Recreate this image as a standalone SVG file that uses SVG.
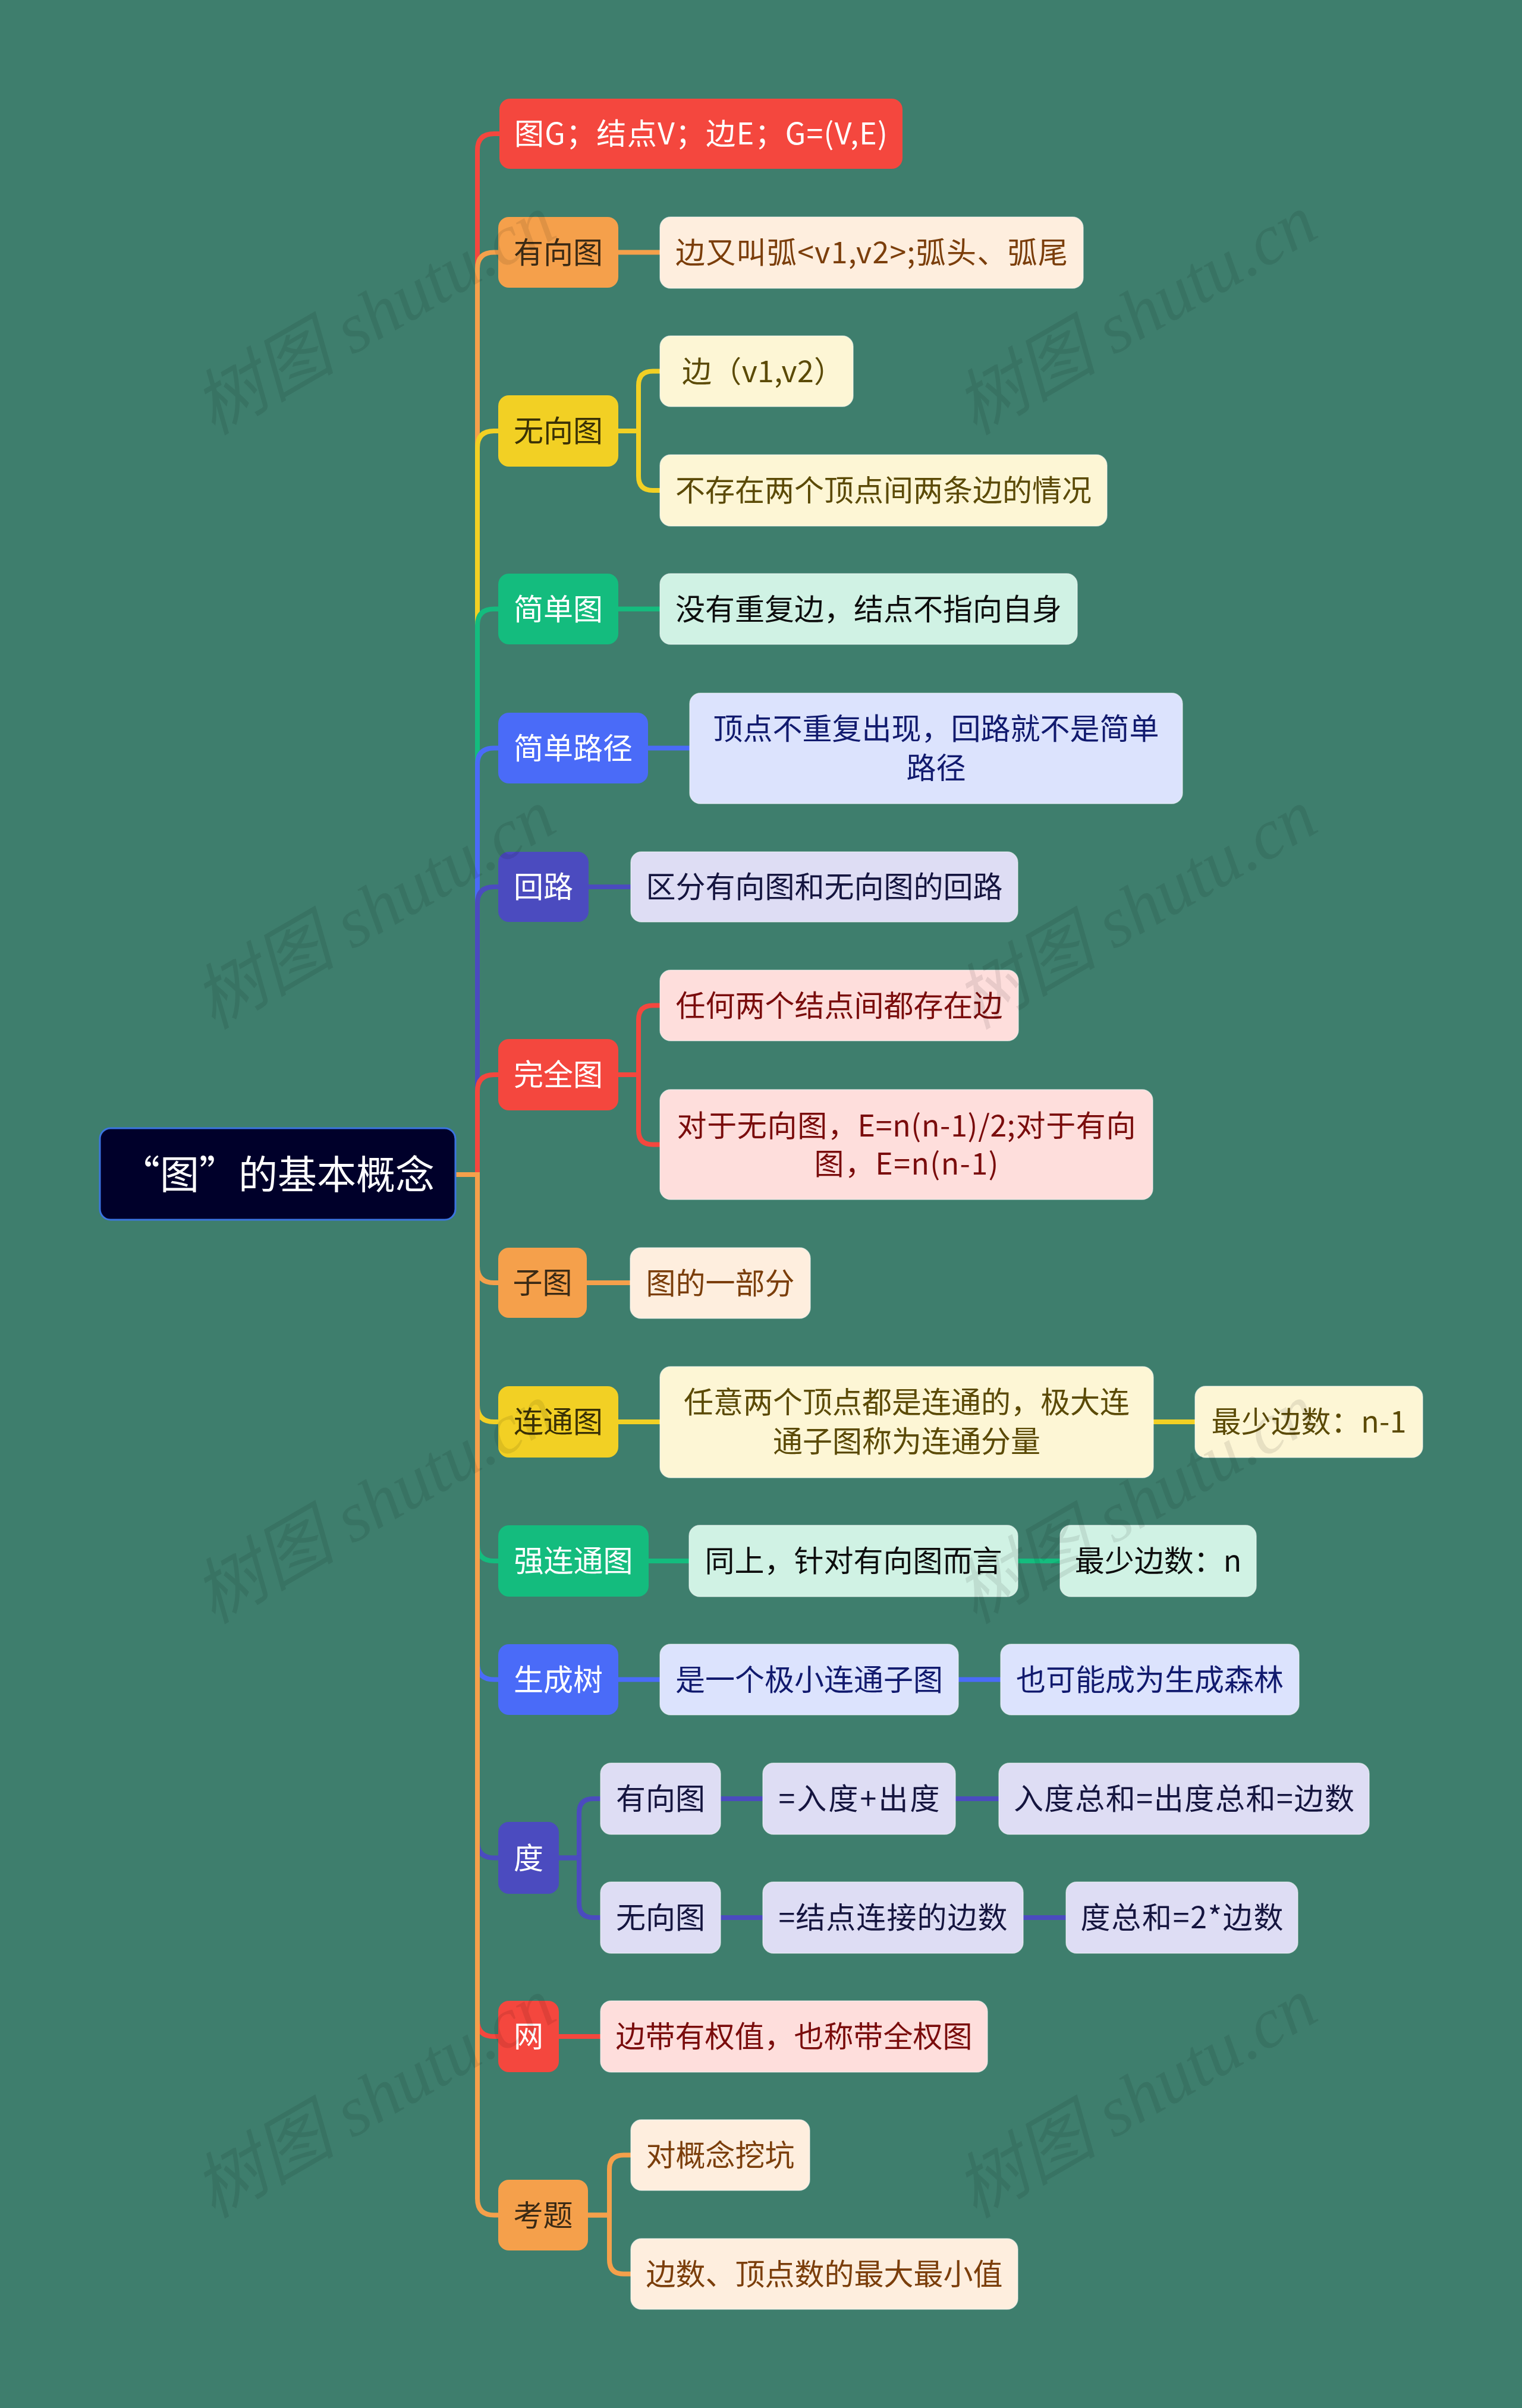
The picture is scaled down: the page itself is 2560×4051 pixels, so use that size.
<svg xmlns="http://www.w3.org/2000/svg" width="2560" height="4051" viewBox="0 0 2560 4051">
<style>
text{font-family:"Noto Sans CJK SC","Noto Sans",sans-serif;text-anchor:middle}
.t1{font-size:50px}
.t2{font-size:50px}
.conn path{fill:none;stroke-width:8}
.sr{stroke:#F4473E}.so{stroke:#F5A04B}.sy{stroke:#F2D024}.sg{stroke:#14BC7E}.sb{stroke:#4A6BF8}.si{stroke:#4B4BBF}
.n1r{fill:#F4473E}.n1o{fill:#F5A04B}.n1y{fill:#F2D024}.n1g{fill:#14BC7E}.n1b{fill:#4A6BF8}.n1i{fill:#4B4BBF}
.n2r{fill:#FEDEDC}.n2o{fill:#FEEEDE}.n2y{fill:#FDF6D5}.n2g{fill:#D0F2E4}.n2b{fill:#DCE3FD}.n2i{fill:#DEDDF4}
.n2{stroke:#ffffff;stroke-opacity:0.5;stroke-width:1.5}
.wl{fill:#ffffff}.wo{fill:#3B2A15}.wy{fill:#3A3106}
.xr{fill:#7A0C0C}.xo{fill:#7B3E0B}.xy{fill:#5B4A06}.xg{fill:#0D0D0D}.xb{fill:#111A6E}.xi{fill:#15153F}
.wm{font-family:"Liberation Serif","Noto Sans CJK SC",serif;font-style:italic;font-size:120px;fill:#000000;fill-opacity:0.085}
</style>
<rect x="0" y="0" width="2560" height="4051" fill="#3E7E6D"/>

<g class="conn" id="connectors">
<path class="sr" d="M766,1976 H803 V253 Q803,225 831,225 H842"/>
<path class="so" d="M766,1976 H803 V452 Q803,424.5 831,424.5 H842"/>
<path class="sy" d="M766,1976 H803 V753 Q803,725 831,725 H842"/>
<path class="sg" d="M766,1976 H803 V1052 Q803,1024.5 831,1024.5 H842"/>
<path class="sb" d="M766,1976 H803 V1286 Q803,1258.5 831,1258.5 H842"/>
<path class="si" d="M766,1976 H803 V1520 Q803,1492 831,1492 H842"/>
<path class="sr" d="M766,1976 H803 V1836 Q803,1808 831,1808 H842"/>
<path class="so" d="M766,1976 H803 V2130 Q803,2158 831,2158 H842"/>
<path class="sy" d="M766,1976 H803 V2364 Q803,2392 831,2392 H842"/>
<path class="sg" d="M766,1976 H803 V2598 Q803,2626 831,2626 H842"/>
<path class="sb" d="M766,1976 H803 V2797.5 Q803,2825.5 831,2825.5 H842"/>
<path class="si" d="M766,1976 H803 V3097.5 Q803,3125.5 831,3125.5 H842"/>
<path class="sr" d="M766,1976 H803 V3398 Q803,3426 831,3426 H842"/>
<path class="so" d="M766,1976 H803 V3698.5 Q803,3726.5 831,3726.5 H842"/>

<path class="so" d="M1038,424.5 H1112"/>
<path class="sy" d="M1038,725 H1074 V648.5 Q1074,624.5 1098,624.5 H1112"/>
<path class="sy" d="M1038,725 H1074 V801 Q1074,825 1098,825 H1112"/>
<path class="sg" d="M1038,1024.5 H1112"/>
<path class="sb" d="M1088,1258.5 H1162"/>
<path class="si" d="M988,1492 H1063"/>
<path class="sr" d="M1038,1808 H1074 V1715.5 Q1074,1691.5 1098,1691.5 H1112"/>
<path class="sr" d="M1038,1808 H1074 V1901.5 Q1074,1925.5 1098,1925.5 H1112"/>
<path class="so" d="M985,2158 H1062"/>
<path class="sy" d="M1038,2392 H1112"/>
<path class="sy" d="M1938,2392 H2012"/>
<path class="sg" d="M1089,2626 H1161"/>
<path class="sg" d="M1710,2626 H1785"/>
<path class="sb" d="M1038,2825.5 H1112"/>
<path class="sb" d="M1610,2825.5 H1685"/>
<path class="si" d="M938,3125.5 H974 V3050 Q974,3026 998,3026 H1012"/>
<path class="si" d="M938,3125.5 H974 V3202 Q974,3226 998,3226 H1012"/>
<path class="si" d="M1210,3026 H1285"/>
<path class="si" d="M1605,3026 H1682"/>
<path class="si" d="M1210,3226 H1285"/>
<path class="si" d="M1719,3226 H1795"/>
<path class="sr" d="M938,3426 H1012"/>
<path class="so" d="M987,3726.5 H1025 V3649.5 Q1025,3625.5 1049,3625.5 H1063"/>
<path class="so" d="M987,3726.5 H1025 V3801.5 Q1025,3825.5 1049,3825.5 H1063"/>
</g>

<g id="root">
<rect x="168" y="1898" width="598" height="154" rx="18" fill="#00002A" stroke="#3B74E0" stroke-width="3"/>
<text x="467" y="2000" font-size="66" fill="#ffffff">“图”的基本概念</text>
</g>

<g id="n1">
<rect class="n1r" x="840" y="166" width="678" height="118" rx="18"/>
<text class="t1 wl" x="1179" y="243" textLength="628">图G；结点V；边E；G=(V,E)</text>
</g>
<g id="n2">
<rect class="n1o" x="838" y="365" width="202" height="119" rx="18"/>
<text class="t1 wo" x="939" y="442.5">有向图</text>
</g>
<g id="n2a">
<rect class="n2o n2" x="1110" y="365" width="712" height="120" rx="18"/>
<text class="t2 xo" x="1466" y="442.5" textLength="660">边又叫弧&lt;v1,v2&gt;;弧头、弧尾</text>
</g>
<g id="n3">
<rect class="n1y" x="838" y="665" width="202" height="120" rx="18"/>
<text class="t1 wy" x="939" y="743">无向图</text>
</g>
<g id="n3a">
<rect class="n2y n2" x="1110" y="565" width="325" height="119" rx="18"/>
<text class="t2 xy" x="1283" y="642.5" textLength="272">边（v1,v2）</text>
</g>
<g id="n3b">
<rect class="n2y n2" x="1110" y="765" width="752" height="120" rx="18"/>
<text class="t2 xy" x="1486" y="843">不存在两个顶点间两条边的情况</text>
</g>
<g id="n4">
<rect class="n1g" x="838" y="965" width="202" height="119" rx="18"/>
<text class="t1 wl" x="939" y="1042.5">简单图</text>
</g>
<g id="n4a">
<rect class="n2g n2" x="1110" y="965" width="702" height="119" rx="18"/>
<text class="t2 xg" x="1461" y="1042.5">没有重复边，结点不指向自身</text>
</g>
<g id="n5">
<rect class="n1b" x="838" y="1199" width="252" height="119" rx="18"/>
<text class="t1 wl" x="964" y="1276.5">简单路径</text>
</g>
<g id="n5a">
<rect class="n2b n2" x="1160" y="1166" width="829" height="186" rx="18"/>
<text class="t2 xb" x="1574.5" y="1244">顶点不重复出现，回路就不是简单</text>
<text class="t2 xb" x="1574.5" y="1310">路径</text>
</g>
<g id="n6">
<rect class="n1i" x="838" y="1433" width="152" height="118" rx="18"/>
<text class="t1 wl" x="914" y="1510">回路</text>
</g>
<g id="n6a">
<rect class="n2i n2" x="1061" y="1433" width="651" height="118" rx="18"/>
<text class="t2 xi" x="1386.5" y="1510">区分有向图和无向图的回路</text>
</g>
<g id="n7">
<rect class="n1r" x="838" y="1748" width="202" height="120" rx="18"/>
<text class="t1 wl" x="939" y="1826">完全图</text>
</g>
<g id="n7a">
<rect class="n2r n2" x="1110" y="1632" width="603" height="119" rx="18"/>
<text class="t2 xr" x="1411.5" y="1709.5">任何两个结点间都存在边</text>
</g>
<g id="n7b">
<rect class="n2r n2" x="1110" y="1833" width="829" height="185" rx="18"/>
<text class="t2 xr" x="1524.5" y="1911.5" textLength="772">对于无向图，E=n(n-1)/2;对于有向</text>
<text class="t2 xr" x="1524.5" y="1975.5" textLength="310">图，E=n(n-1)</text>
</g>
<g id="n8">
<rect class="n1o" x="838" y="2099" width="149" height="118" rx="18"/>
<text class="t1 wo" x="912.5" y="2176">子图</text>
</g>
<g id="n8a">
<rect class="n2o n2" x="1060" y="2099" width="303" height="119" rx="18"/>
<text class="t2 xo" x="1211.5" y="2176.5">图的一部分</text>
</g>
<g id="n9">
<rect class="n1y" x="838" y="2332" width="202" height="120" rx="18"/>
<text class="t1 wy" x="939" y="2410">连通图</text>
</g>
<g id="n9a">
<rect class="n2y n2" x="1110" y="2299" width="830" height="187" rx="18"/>
<text class="t2 xy" x="1525" y="2377">任意两个顶点都是连通的，极大连</text>
<text class="t2 xy" x="1525" y="2443">通子图称为连通分量</text>
</g>
<g id="n9b">
<rect class="n2y n2" x="2010" y="2332" width="383" height="120" rx="18"/>
<text class="t2 xy" x="2201.5" y="2410" textLength="328">最少边数：n-1</text>
</g>
<g id="n10">
<rect class="n1g" x="838" y="2566" width="253" height="120" rx="18"/>
<text class="t1 wl" x="964.5" y="2644">强连通图</text>
</g>
<g id="n10a">
<rect class="n2g n2" x="1159" y="2566" width="553" height="120" rx="18"/>
<text class="t2 xg" x="1435.5" y="2644">同上，针对有向图而言</text>
</g>
<g id="n10b">
<rect class="n2g n2" x="1783" y="2566" width="330" height="120" rx="18"/>
<text class="t2 xg" x="1948" y="2644">最少边数：n</text>
</g>
<g id="n11">
<rect class="n1b" x="838" y="2766" width="202" height="119" rx="18"/>
<text class="t1 wl" x="939" y="2843.5">生成树</text>
</g>
<g id="n11a">
<rect class="n2b n2" x="1110" y="2766" width="502" height="119" rx="18"/>
<text class="t2 xb" x="1361" y="2843.5">是一个极小连通子图</text>
</g>
<g id="n11b">
<rect class="n2b n2" x="1683" y="2766" width="502" height="119" rx="18"/>
<text class="t2 xb" x="1934" y="2843.5">也可能成为生成森林</text>
</g>
<g id="n12">
<rect class="n1i" x="838" y="3065" width="102" height="121" rx="18"/>
<text class="t1 wl" x="889" y="3143.5">度</text>
</g>
<g id="n12a">
<rect class="n2i n2" x="1010" y="2966" width="202" height="120" rx="18"/>
<text class="t2 xi" x="1111" y="3044">有向图</text>
</g>
<g id="n12a1">
<rect class="n2i n2" x="1283" y="2966" width="324" height="120" rx="18"/>
<text class="t2 xi" x="1445" y="3044" textLength="271">=入度+出度</text>
</g>
<g id="n12a2">
<rect class="n2i n2" x="1680" y="2966" width="623" height="120" rx="18"/>
<text class="t2 xi" x="1991.5" y="3044" textLength="573">入度总和=出度总和=边数</text>
</g>
<g id="n12b">
<rect class="n2i n2" x="1010" y="3166" width="202" height="120" rx="18"/>
<text class="t2 xi" x="1111" y="3244">无向图</text>
</g>
<g id="n12b1">
<rect class="n2i n2" x="1283" y="3166" width="438" height="120" rx="18"/>
<text class="t2 xi" x="1502" y="3244" textLength="385">=结点连接的边数</text>
</g>
<g id="n12b2">
<rect class="n2i n2" x="1793" y="3166" width="390" height="120" rx="18"/>
<text class="t2 xi" x="1988" y="3244" textLength="341">度总和=2*边数</text>
</g>
<g id="n13">
<rect class="n1r" x="838" y="3366" width="102" height="120" rx="18"/>
<text class="t1 wl" x="889" y="3444">网</text>
</g>
<g id="n13a">
<rect class="n2r n2" x="1010" y="3366" width="651" height="120" rx="18"/>
<text class="t2 xr" x="1335.5" y="3444">边带有权值，也称带全权图</text>
</g>
<g id="n14">
<rect class="n1o" x="838" y="3667" width="151" height="119" rx="18"/>
<text class="t1 wo" x="913.5" y="3744.5">考题</text>
</g>
<g id="n14a">
<rect class="n2o n2" x="1061" y="3566" width="301" height="119" rx="18"/>
<text class="t2 xo" x="1211.5" y="3643.5">对概念挖坑</text>
</g>
<g id="n14b">
<rect class="n2o n2" x="1061" y="3766" width="651" height="119" rx="18"/>
<text class="t2 xo" x="1386.5" y="3843.5">边数、顶点数的最大最小值</text>
</g>

<g id="watermarks">
<text class="wm" transform="translate(630,530) rotate(-30)" y="40">树图 shutu.cn</text>
<text class="wm" transform="translate(1911,530) rotate(-30)" y="40">树图 shutu.cn</text>
<text class="wm" transform="translate(630,1530) rotate(-30)" y="40">树图 shutu.cn</text>
<text class="wm" transform="translate(1911,1530) rotate(-30)" y="40">树图 shutu.cn</text>
<text class="wm" transform="translate(630,2530) rotate(-30)" y="40">树图 shutu.cn</text>
<text class="wm" transform="translate(1911,2530) rotate(-30)" y="40">树图 shutu.cn</text>
<text class="wm" transform="translate(630,3530) rotate(-30)" y="40">树图 shutu.cn</text>
<text class="wm" transform="translate(1911,3530) rotate(-30)" y="40">树图 shutu.cn</text>
</g>
</svg>
